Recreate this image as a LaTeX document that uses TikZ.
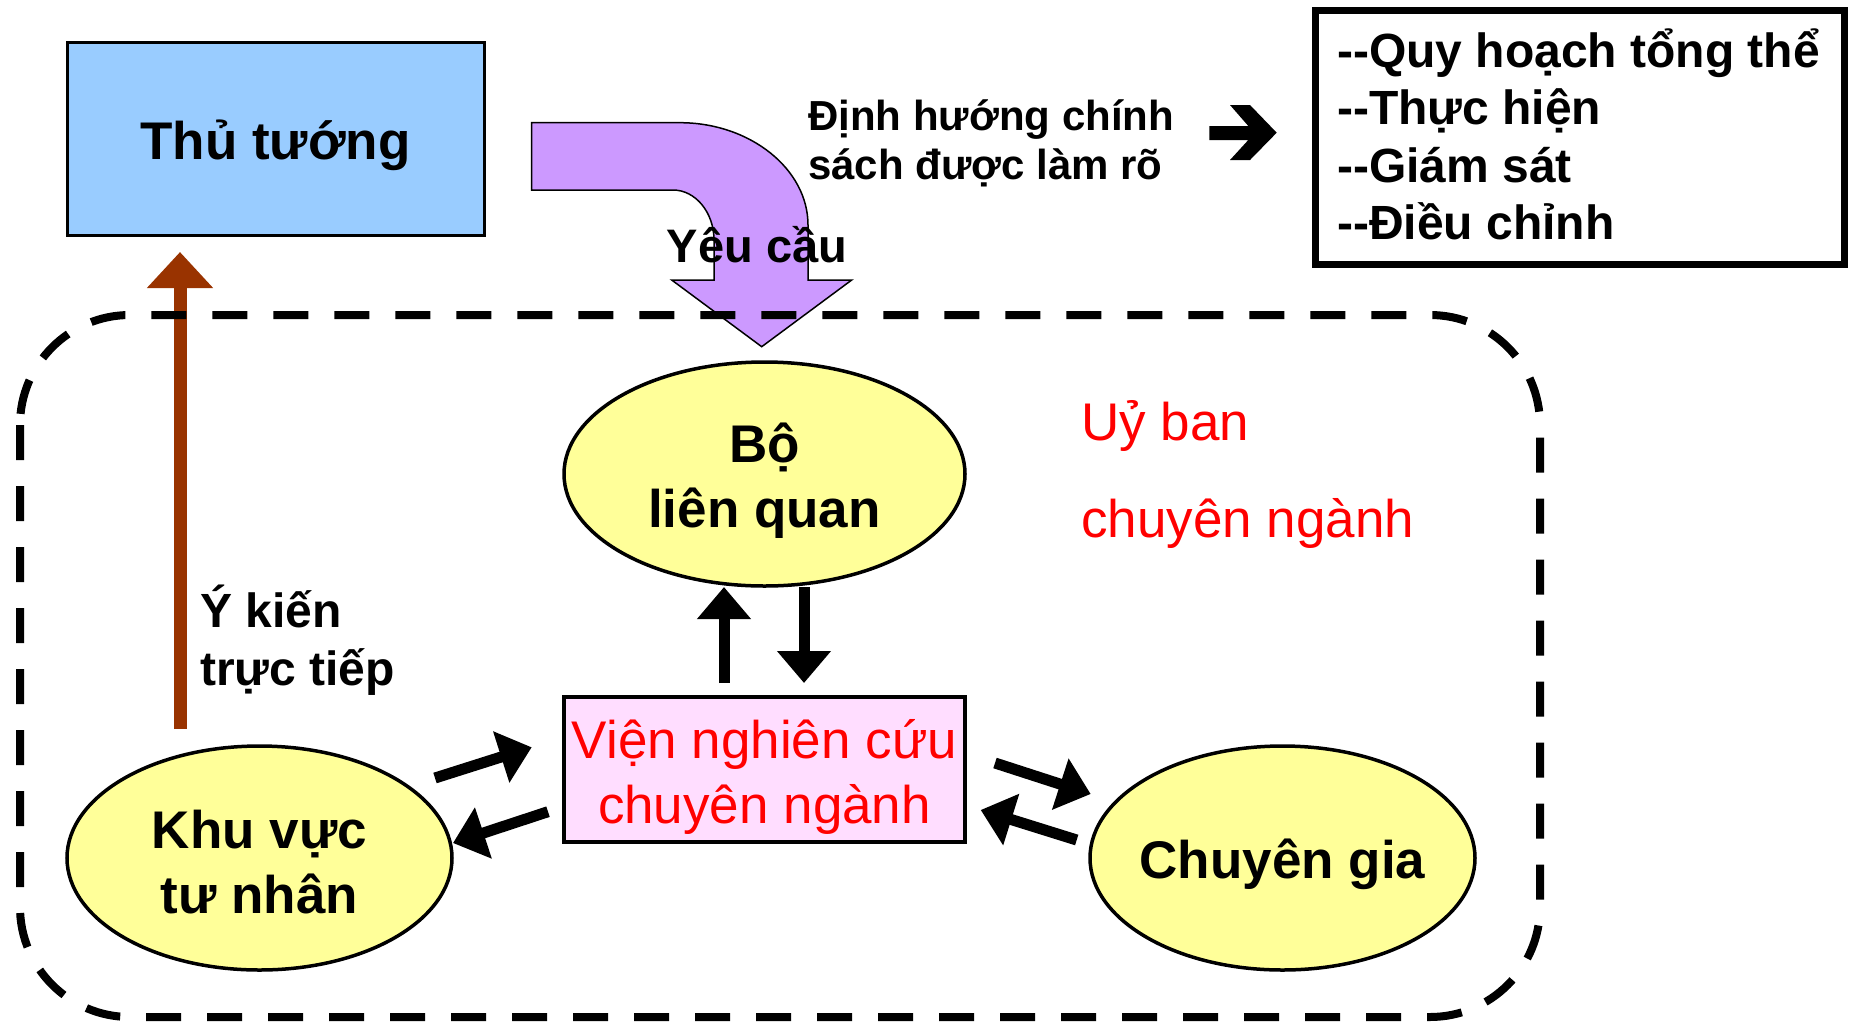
\documentclass[tikz,border=0pt]{standalone}
\usepackage{fontspec}
\setmainfont{Liberation Sans}
\usetikzlibrary{arrows.meta,shapes.geometric}
\definecolor{blueBox}{HTML}{99CCFF}
\definecolor{yel}{HTML}{FFFF99}
\definecolor{pinkBox}{HTML}{FFDDFF}
\definecolor{purp}{HTML}{CC99FF}
\definecolor{brownA}{HTML}{993300}
\definecolor{redT}{HTML}{FF0000}
\tikzset{
  bigb/.style={font=\fontsize{53}{65}\selectfont\bfseries},
  bigr/.style={font=\fontsize{53}{65}\selectfont, text=redT},
  listb/.style={font=\fontsize{48}{56}\selectfont\bfseries, anchor=base west, inner sep=0pt},
  ell/.style={ellipse, draw, line width=3.5pt, fill=yel, minimum width=401pt,
              minimum height=224pt, inner sep=0pt},
  intext/.style={inner sep=0pt, align=center},
  blk/.style={line width=11pt, -{Triangle[width=52pt,length=32pt]}},
}
\begin{document}
\begin{tikzpicture}[x=1pt,y=-1pt]
\useasboundingbox (0,0) rectangle (1850,1021);

% top-left box
\node[draw, line width=3pt, fill=blueBox, minimum width=417pt, minimum height=193pt]
  (pm) at (275.5,138.5) {};
\node[intext, bigb] (pmt) at ([yshift=-7pt]pm.center) {Thủ tướng};

% purple bent arrow
\draw[line width=1.5pt, fill=purp, line join=miter]
  (531.7,122.7) -- (680,122.7) .. controls (750,122.7) and (808,169) .. (808,225)
  -- (808,280) -- (851.7,280) -- (761.7,346.7) -- (671.7,280) -- (714,280)
  -- (714,240) .. controls (714,212.5) and (695.5,190) .. (673,190)
  -- (531.7,190) -- cycle;
\node[font=\fontsize{47}{55}\selectfont\bfseries, inner sep=0pt] (req) at (757,245) {Yêu cầu};

% policy text and arrow
\node[font=\fontsize{42}{48}\selectfont\bfseries, anchor=base west, inner sep=0pt] (pol1) at (808,130) {Định hướng chính};
\node[font=\fontsize{42}{48}\selectfont\bfseries, anchor=base west, inner sep=0pt] (pol2) at (808,179) {sách được làm rõ};
\fill (1209.3,126) -- (1248.3,126) -- (1230,105) -- (1250,105) -- (1276.7,132.7)
  -- (1250,160) -- (1230,160) -- (1248.3,140) -- (1209.3,140) -- cycle;

% right box
\node[draw, line width=7pt, minimum width=529pt, minimum height=254pt, inner sep=0pt]
  (list) at (1580,137.5) {};
\node[listb] (l1) at (1337,67) {-{}-Quy hoạch tổng thể};
\node[listb] (l2) at (1337,124.5) {-{}-Thực hiện};
\node[listb] (l3) at (1337,182) {-{}-Giám sát};
\node[listb] (l4) at (1337,239.5) {-{}-Điều chỉnh};

% brown arrow
\coordinate (bs) at (180,729);
\coordinate (be) at (180,252);
\draw[brownA, line width=13pt, -{Triangle[width=64pt,length=36pt]}] (bs) -- (be);
\node[font=\fontsize{48}{58}\selectfont\bfseries, anchor=base west, inner sep=0pt] (op1) at (200,627) {Ý kiến};
\node[font=\fontsize{48}{58}\selectfont\bfseries, anchor=base west, inner sep=0pt] (op2) at (200,685) {trực tiếp};

% dashed committee boundary
\draw[line width=8pt, dash pattern=on 35pt off 26pt, rounded corners=110pt]
  (20,315) rectangle (1540,1017);

% nodes
\node[ell] (bo) at (764.5,474) {};
\node[intext, bigb] (bot) at ([yshift=-7pt]bo.center) {Bộ\\liên quan};
\node[ell, minimum width=385pt] (khu) at (259.5,858) {};
\node[intext, bigb] (khut) at ([yshift=-4pt]khu.center) {Khu vực\\tư nhân};
\node[ell, minimum width=385pt] (cg) at (1282.5,858) {};
\node[intext, bigb] (cgt) at ([yshift=-6pt]cg.center) {Chuyên gia};
\node[draw, line width=4.5pt, fill=pinkBox, minimum width=401pt, minimum height=145pt,
      inner sep=0pt] (vien) at (764.5,769.5) {};
\node[intext, bigr] (vient) at ([yshift=-7pt]vien.center) {Viện nghiên cứu\\chuyên ngành};
\node[bigr, anchor=base west, inner sep=0pt] (ub1) at (1081,440) {Uỷ ban};
\node[bigr, anchor=base west, inner sep=0pt] (ub2) at (1081,537) {chuyên ngành};

% black arrows
\coordinate (a1s) at (724,683);  \coordinate (a1e) at (724,587);
\coordinate (a2s) at (804,587);  \coordinate (a2e) at (804,683);
\coordinate (a3s) at (435,778);  \coordinate (a3e) at (531.7,747.3);
\coordinate (a4s) at (548,811.7); \coordinate (a4e) at (453,843);
\coordinate (a5s) at (995,763);  \coordinate (a5e) at (1090.7,794);
\coordinate (a6s) at (1076.7,840); \coordinate (a6e) at (980.7,810);
\draw[blk] (a1s) -- (a1e);
\draw[blk] (a2s) -- (a2e);
\draw[blk] (a3s) -- (a3e);
\draw[blk] (a4s) -- (a4e);
\draw[blk] (a5s) -- (a5e);
\draw[blk] (a6s) -- (a6e);
\end{tikzpicture}
\end{document}
